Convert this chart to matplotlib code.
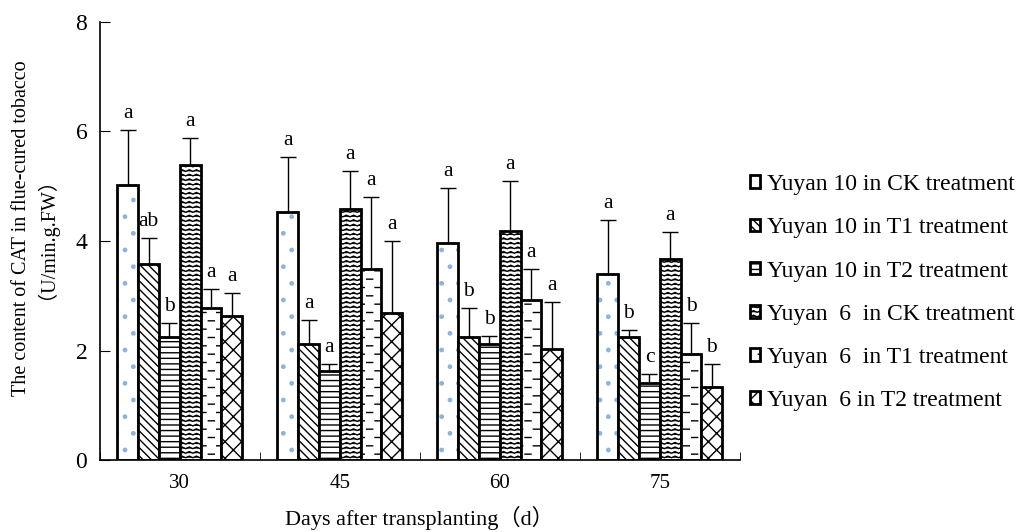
import matplotlib.pyplot as plt
from matplotlib import hatch as mhatch
from matplotlib.path import Path
import numpy as np
import warnings

warnings.filterwarnings('ignore')
plt.rcParams['font.family'] = ['Liberation Serif', 'Noto Sans CJK SC']
plt.rcParams['hatch.linewidth'] = 1.0

days = ['30', '45', '60', '75']
series = ['Yuyan 10 in CK treatment', 'Yuyan 10 in T1 treatment',
          'Yuyan 10 in T2 treatment', 'Yuyan  6  in CK treatment',
          'Yuyan  6  in T1 treatment', 'Yuyan  6 in T2 treatment']

# means per series, one value per day
ck10 = [5.02, 4.53, 3.96, 3.40]
t1_10 = [3.58, 2.12, 2.24, 2.24]
t2_10 = [2.24, 1.63, 2.12, 1.41]
ck6 = [5.38, 4.58, 4.18, 3.67]
t1_6 = [2.78, 3.49, 2.92, 1.94]
t2_6 = [2.63, 2.68, 2.03, 1.33]

# upper error (std)
err_ck10 = [1.00, 1.00, 1.01, 0.98]
err_t1_10 = [0.47, 0.44, 0.54, 0.13]
err_t2_10 = [0.26, 0.12, 0.14, 0.16]
err_ck6 = [0.50, 0.70, 0.92, 0.49]
err_t1_6 = [0.34, 1.31, 0.57, 0.56]
err_t2_6 = [0.42, 1.32, 0.85, 0.42]

letters_ck10 = ['a', 'a', 'a', 'a']
letters_t1_10 = ['ab', 'a', 'b', 'b']
letters_t2_10 = ['b', 'a', 'b', 'c']
letters_ck6 = ['a', 'a', 'a', 'a']
letters_t1_6 = ['a', 'a', 'a', 'b']
letters_t2_6 = ['a', 'a', 'a', 'b']


# extra hatch patterns: '~' wavy rows, '_' short staggered dashes
class WaveHatch(mhatch.HatchPatternBase):
    def __init__(self, hatch, density):
        self.rows = hatch.count('~') * 22
        self.pts = 29
        self.num_vertices = self.rows * self.pts

    def set_vertices_and_codes(self, vertices, codes):
        xs = np.linspace(0, 1, self.pts)
        wob = np.where(np.arange(self.pts) % 2 == 0, 0.0, 0.016)
        for r in range(self.rows):
            s = slice(r * self.pts, (r + 1) * self.pts)
            vertices[s, 0] = xs
            vertices[s, 1] = (r + 0.3) / self.rows + wob
            codes[s] = Path.LINETO
            codes[r * self.pts] = Path.MOVETO


class DashHatch(mhatch.HatchPatternBase):
    def __init__(self, hatch, density):
        self.rows = hatch.count('_') * 12
        self.per_row = 6
        self.num_vertices = self.rows * self.per_row * 2

    def set_vertices_and_codes(self, vertices, codes):
        k = 0
        for r in range(self.rows):
            y = (r + 0.5) / self.rows
            shift = 0.5 / self.per_row if r % 2 else 0.0
            for c in range(self.per_row):
                x0 = c / self.per_row + shift
                vertices[k] = (x0, y)
                vertices[k + 1] = (x0 + 0.06, y)
                codes[k] = Path.MOVETO
                codes[k + 1] = Path.LINETO
                k += 2


mhatch._hatch_types.append(WaveHatch)
mhatch._hatch_types.append(DashHatch)

means = [ck10, t1_10, t2_10, ck6, t1_6, t2_6]
errs = [err_ck10, err_t1_10, err_t2_10, err_ck6, err_t1_6, err_t2_6]
letters = [letters_ck10, letters_t1_10, letters_t2_10, letters_ck6, letters_t1_6, letters_t2_6]
hatches = ['.', '\\\\\\\\', '---', '~', '_', 'xx']

fig = plt.figure(figsize=(10.29, 5.32), dpi=100)
ax = fig.add_axes([0.097, 0.135, 0.622, 0.824])

x = np.arange(len(days))
w = 0.13
handles = []
for i in range(6):
    pos = x + (i - 2.5) * w
    if i == 0:
        # blue sparse dots, black outline drawn on top
        ax.bar(pos, means[i], w, color='white', edgecolor='#8fb3d9', hatch='.', linewidth=0)
        b = ax.bar(pos, means[i], w, fill=False, edgecolor='black', linewidth=2)
    else:
        b = ax.bar(pos, means[i], w, color='white', edgecolor='black', hatch=hatches[i], linewidth=2)
    handles.append(b)
    ax.errorbar(pos, means[i], yerr=[np.zeros(4), errs[i]], fmt='none',
                ecolor='black', elinewidth=1, capsize=6, capthick=1)
    for j in range(4):
        ax.text(pos[j], means[i][j] + errs[i][j] + 0.22, letters[i][j],
                ha='center', va='baseline', fontsize=15.5)

ax.set_xlim(-0.5, 3.5)
ax.set_ylim(0, 8)
ax.set_yticks([0, 2, 4, 6, 8])
ax.set_xticks(x)
ax.set_xticklabels(days, fontsize=15)
ax.set_xticks(np.arange(-0.5, 4.0, 1.0), minor=True)
ax.tick_params(axis='x', which='major', length=0, pad=10)
ax.tick_params(axis='x', which='minor', direction='in', length=6)
ax.tick_params(axis='y', direction='in', length=7, labelsize=17, pad=9)
ax.spines['top'].set_visible(False)
ax.spines['right'].set_visible(False)
ax.spines['left'].set_linewidth(1.2)
ax.spines['bottom'].set_linewidth(1.2)

ax.set_xlabel('Days after transplanting（d）', fontsize=16)
ax.xaxis.set_label_coords(0.5, -0.105)
ax.set_ylabel('The content of CAT in flue-cured tobacco\n（U/min.g.FW）', fontsize=14.5,
              linespacing=0.66)
ax.yaxis.set_label_coords(-0.082, 0.53)

fig.legend(handles, series, loc='center left', bbox_to_anchor=(0.708, 0.45),
           frameon=False, fontsize=17, handlelength=0.45, handleheight=0.45,
           handletextpad=0.3, labelspacing=0.94)

fig.savefig('out.png', dpi=100)
